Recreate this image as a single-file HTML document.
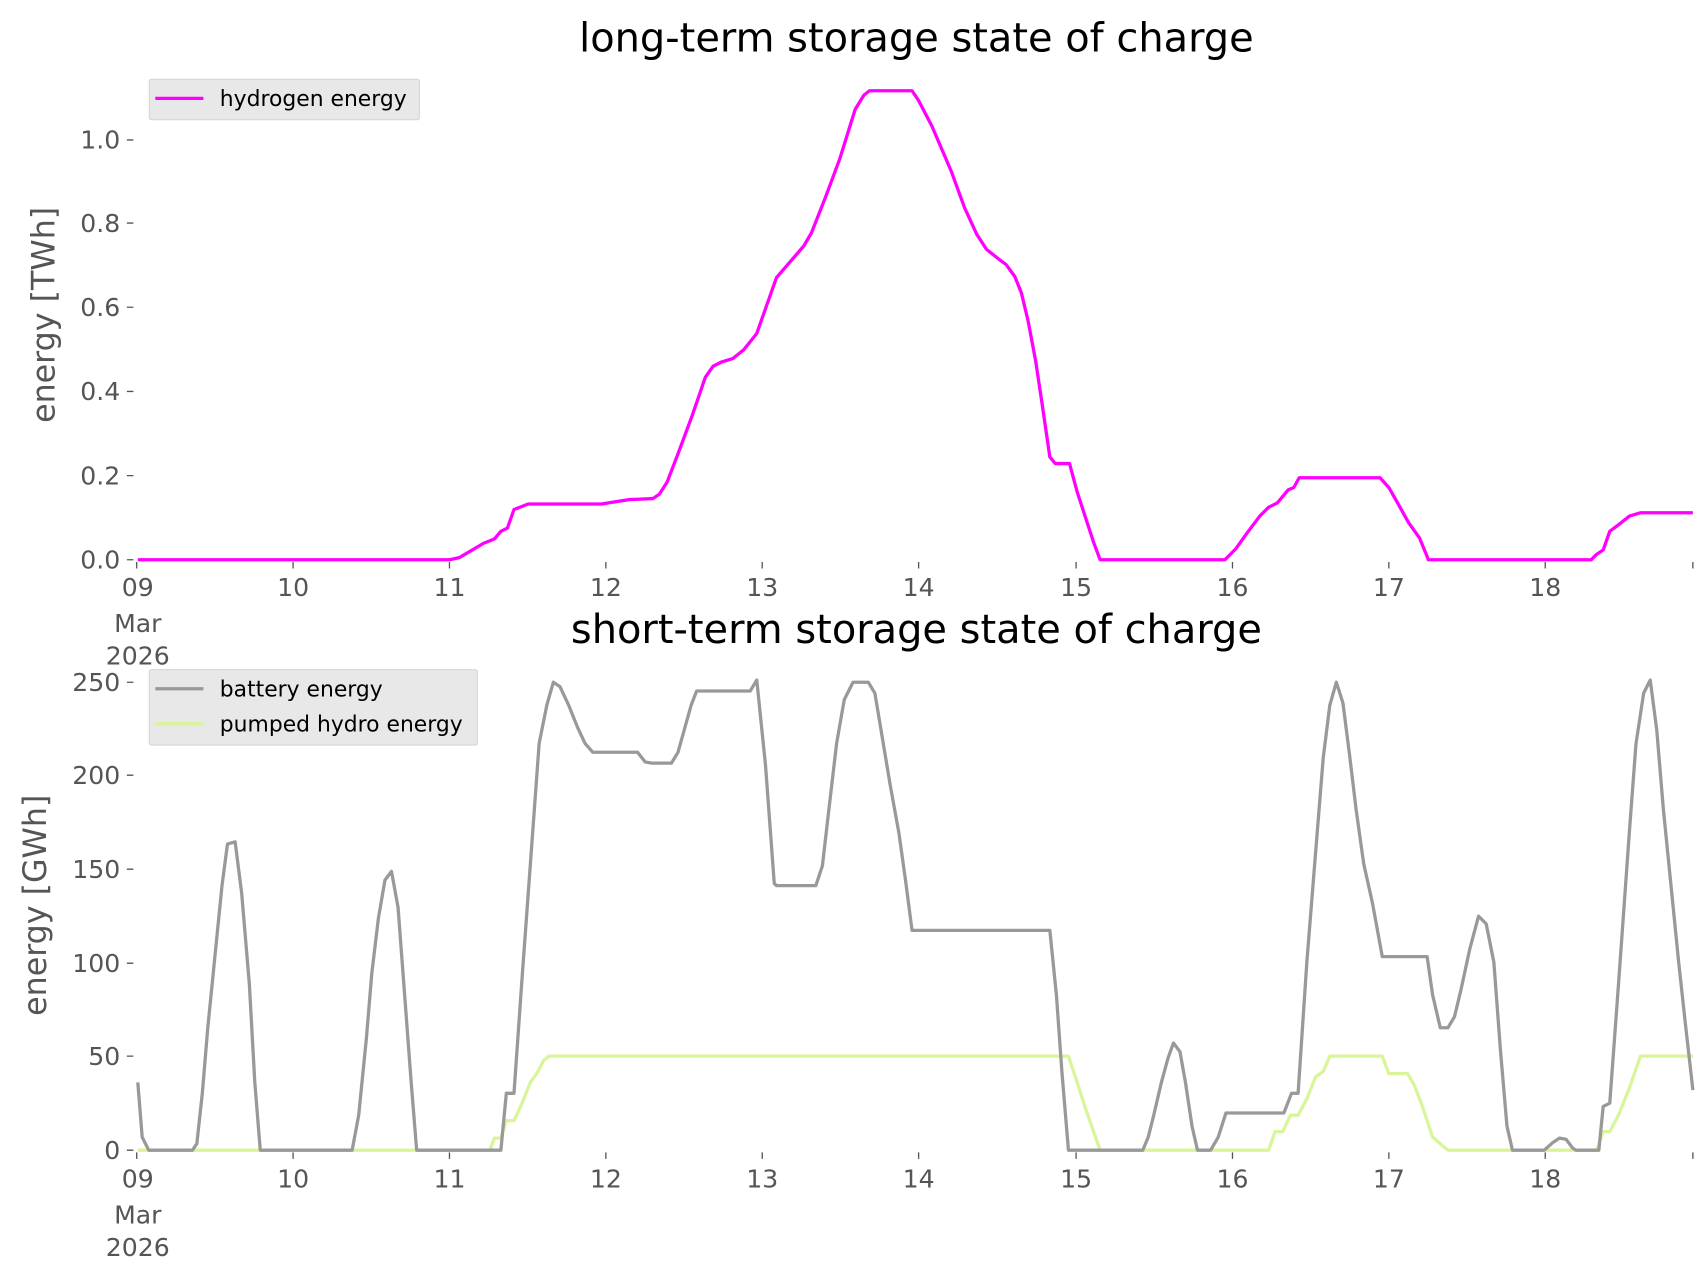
<!DOCTYPE html>
<html><head><meta charset="utf-8"><style>
html,body{margin:0;padding:0;background:#fff;}
svg{display:block;}
text{font-family:"DejaVu Sans","Liberation Sans",sans-serif;}
</style></head><body>
<svg width="1706" height="1277" viewBox="0 0 1560 1168" preserveAspectRatio="none" xmlns="http://www.w3.org/2000/svg">
<rect width="1560" height="1168" fill="#fff"/>
<g font-size="36.5" fill="#000" text-anchor="middle">
<text x="838" y="47">long-term storage state of charge</text>
<text x="838" y="588">short-term storage state of charge</text>
</g>
<g font-size="23" fill="#555" text-anchor="end">
<text x="110" y="520">0.0</text><text x="110" y="443">0.2</text><text x="110" y="366">0.4</text><text x="110" y="289">0.6</text><text x="110" y="212">0.8</text><text x="110" y="136">1.0</text>
<text x="110" y="1060">0</text><text x="110" y="974">50</text><text x="110" y="889">100</text><text x="110" y="803">150</text><text x="110" y="717">200</text><text x="110" y="632">250</text>
</g>
<g stroke="#555" stroke-width="1.2">
<path d="M116 512h6M116 435h6M116 358h6M116 281h6M116 204h6M116 128h6"/>
<path d="M116 1052h6M116 966h6M116 881h6M116 795h6M116 709h6M116 624h6"/>
<path d="M125 514v6M268 514v6M411 514v6M554 514v6M697 514v6M840 514v6M984 514v6M1127 514v6M1270 514v6M1413 514v6M1548 514v6"/>
<path d="M125 1054v6M268 1054v6M411 1054v6M554 1054v6M697 1054v6M840 1054v6M984 1054v6M1127 1054v6M1270 1054v6M1413 1054v6M1548 1054v6"/>
</g>
<g font-size="23" fill="#555" text-anchor="middle">
<text x="126" y="545">09</text><text x="126" y="578">Mar</text><text x="126" y="608">2026</text>
<text x="268" y="545">10</text><text x="411" y="545">11</text><text x="554" y="545">12</text><text x="697" y="545">13</text><text x="840" y="545">14</text><text x="984" y="545">15</text><text x="1127" y="545">16</text><text x="1270" y="545">17</text><text x="1413" y="545">18</text>
<text x="126" y="1086">09</text><text x="126" y="1119">Mar</text><text x="126" y="1149">2026</text>
<text x="268" y="1086">10</text><text x="411" y="1086">11</text><text x="554" y="1086">12</text><text x="697" y="1086">13</text><text x="840" y="1086">14</text><text x="984" y="1086">15</text><text x="1127" y="1086">16</text><text x="1270" y="1086">17</text><text x="1413" y="1086">18</text>
</g>
<g font-size="29" fill="#555" text-anchor="middle">
<text transform="translate(50,288) rotate(-90)">energy [TWh]</text>
<text transform="translate(42,828) rotate(-90)">energy [GWh]</text>
</g>
<polyline fill="none" stroke="#ff00ff" stroke-width="3" stroke-linejoin="round" points="126,512 411,512 420,510 432,503 442,497 452,493 458,486 464,483 470,466 483,461 550,461 575,457 597,456 603,452 610,441 620,415 633,380 645,345 652,335 660,331 670,328 680,320 692,305 710,254 722,240 735,225 742,213 755,180 768,145 782,100 790,87 795,83 834,83 840,92 852,115 870,157 882,190 893,214 902,228 912,236 920,242 928,253 934,268 940,293 947,330 953,370 960,418 965,424 978,424 985,450 1000,496 1006,512 1120,512 1130,502 1140,488 1152,472 1160,464 1168,460 1178,448 1183,446 1188,437 1262,437 1270,446 1278,460 1288,478 1298,492 1305,509 1306,512 1455,512 1460,507 1466,503 1472,486 1480,480 1490,472 1500,469 1548,469"/>
<polyline fill="none" stroke="#d9f599" stroke-width="3" stroke-linejoin="round" points="126,1052 448,1052 452,1041 458,1041 463,1025 470,1025 477,1010 485,990 492,980 497,970 502,966 977,966 985,990 993,1015 1000,1035 1006,1052 1160,1052 1166,1035 1173,1035 1180,1020 1187,1020 1195,1005 1203,985 1210,980 1216,966 1264,966 1270,982 1287,982 1293,992 1300,1010 1310,1040 1318,1047 1324,1052 1460,1052 1466,1035 1472,1035 1480,1020 1490,995 1500,966 1548,966"/>
<polyline fill="none" stroke="#999" stroke-width="3" stroke-linejoin="round" points="126,990 130,1040 136,1052 176,1052 180,1046 185,1000 190,940 197,870 203,810 208,772 215,770 221,817 228,900 233,990 238,1052 322,1052 328,1020 335,950 340,890 346,840 352,805 358,797 364,830 370,910 376,990 381,1052 458,1052 463,1000 470,1000 477,900 485,790 493,680 500,645 506,624 512,628 520,645 528,665 535,680 542,688 583,688 590,697 596,698 614,698 620,688 632,645 637,632 686,632 692,622 700,700 708,808 710,810 746,810 752,792 758,740 765,680 772,640 780,624 794,624 800,634 806,670 814,718 822,762 828,805 834,851 960,851 966,910 971,980 977,1052 1045,1052 1050,1040 1055,1020 1062,990 1068,968 1073,954 1079,962 1084,990 1090,1030 1095,1052 1107,1052 1114,1040 1121,1018 1174,1018 1181,1000 1187,1000 1195,880 1203,780 1210,693 1216,645 1222,624 1228,643 1234,690 1240,740 1247,790 1255,826 1264,875 1305,875 1310,910 1317,940 1324,940 1330,930 1336,905 1344,868 1352,838 1359,845 1366,880 1372,960 1378,1030 1383,1052 1412,1052 1420,1045 1426,1041 1432,1042 1438,1050 1441,1052 1462,1052 1466,1012 1472,1009 1480,900 1490,760 1496,680 1503,634 1509,622 1515,668 1521,740 1528,810 1535,880 1541,935 1548,997"/>
<rect x="136.5" y="72.5" width="247" height="37" rx="2" fill="#e8e8e8" stroke="#d5d5d5"/>
<line x1="142" y1="90" x2="186" y2="90" stroke="#ff00ff" stroke-width="3"/>
<text x="201" y="97" font-size="20" fill="#000">hydrogen energy</text>
<rect x="136.5" y="612.5" width="300" height="69" rx="2" fill="#e8e8e8" stroke="#d5d5d5"/>
<line x1="142" y1="630" x2="186" y2="630" stroke="#999" stroke-width="3"/>
<text x="201" y="637" font-size="20" fill="#000">battery energy</text>
<line x1="142" y1="662" x2="186" y2="662" stroke="#d9f599" stroke-width="3"/>
<text x="201" y="669" font-size="20" fill="#000">pumped hydro energy</text>
</svg>
</body></html>
